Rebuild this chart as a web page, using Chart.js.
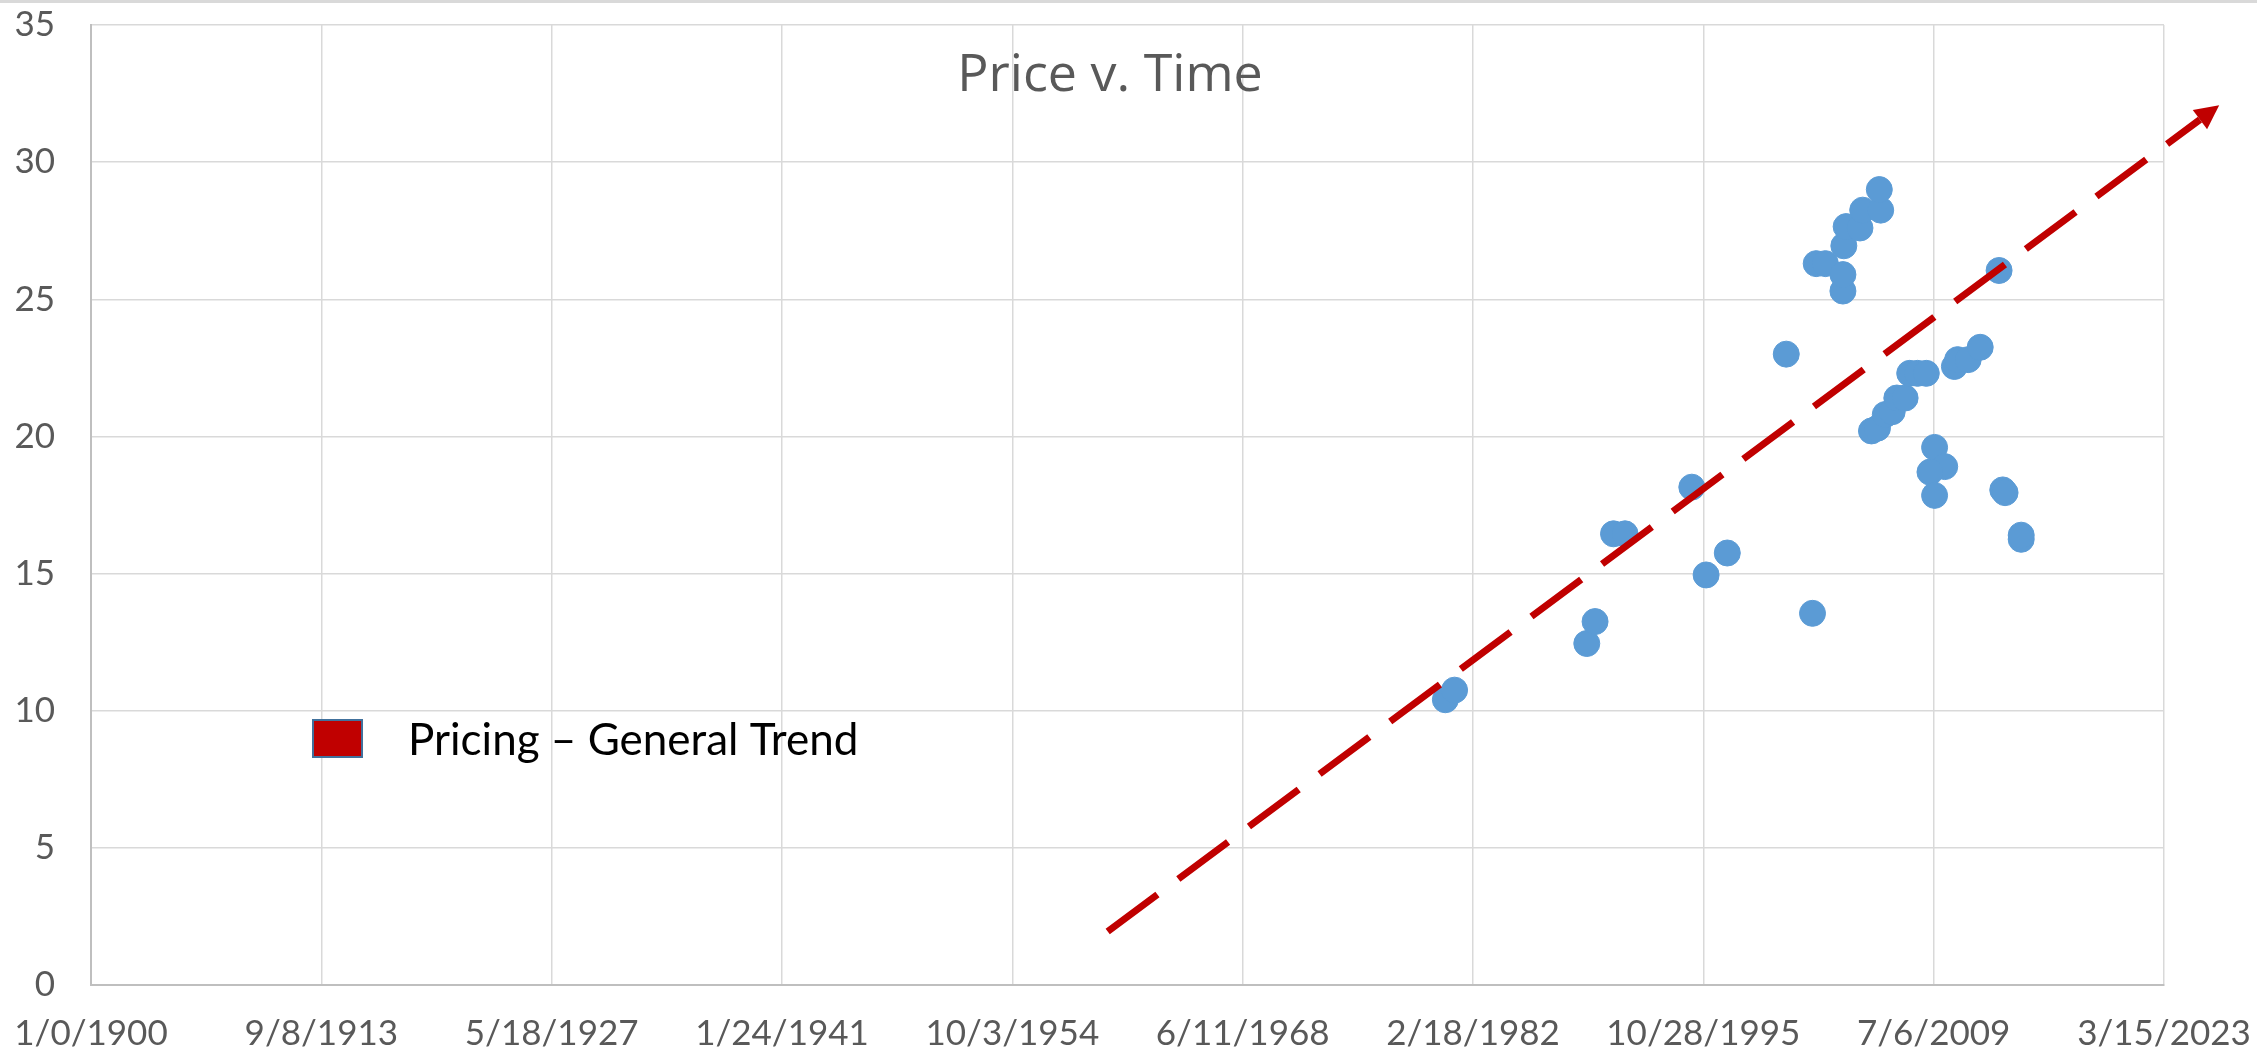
<!DOCTYPE html>
<html>
<head>
<meta charset="utf-8">
<title>Price v. Time</title>
<script src="https://cdn.jsdelivr.net/npm/chart.js@4.4.1/dist/chart.umd.min.js"></script>
<style>
  html, body { margin: 0; padding: 0; background: #fff; }
  .wrap { position: relative; width: 2257px; height: 1057px; }
  .topbar { position: absolute; left: 0; top: 0; width: 2257px; height: 3px; background: #d9d9d9; }
</style>
</head>
<body>
<div class="wrap">
  <canvas id="myChart" width="2257" height="1057"></canvas>
  <div class="topbar"></div>
</div>
<script>
// excel date serials and prices
const priceDates = [29400, 29600, 32470, 32650, 33050, 33300, 34750, 35060, 35520, 36800,
  37370, 37450, 37650, 38030, 38030, 38050, 38100, 38400, 38460, 38850, 38820,
  38650, 38780, 38950, 39100, 39200, 39380, 39480, 39650, 39840, 40020, 40240,
  39920, 40020, 40450, 40520, 40750, 41010, 41420, 41500, 41550, 41900, 41900]
const prices = [10.4, 10.75, 12.45, 13.25, 16.45, 16.45, 18.15, 14.95, 15.75, 23.0,
  13.55, 26.3, 26.3, 25.3, 25.9, 26.95, 27.65, 27.6, 28.25, 28.25, 29.0,
  20.2, 20.3, 20.8, 20.9, 21.4, 21.4, 22.3, 22.3, 22.3, 19.6, 18.9,
  18.7, 17.85, 22.55, 22.8, 22.8, 23.25, 26.05, 18.05, 17.95, 16.25, 16.4]

// trend line: start and arrow base
const trendDates = [22070, 45780]
const trendPrices = [1.95, 31.55]

const xTickLabels = ['1/0/1900', '9/8/1913', '5/18/1927', '1/24/1941', '10/3/1954',
  '6/11/1968', '2/18/1982', '10/28/1995', '7/6/2009', '3/15/2023']
const legendLabel = 'Pricing \u2013 General Trend'
const chartTitle = 'Price v. Time'

const ctx = document.getElementById('myChart')

const pricePoints = priceDates.map((d, i) => ({x: d, y: prices[i]}))
const trendPoints = trendDates.map((d, i) => ({x: d, y: trendPrices[i]}))

// title, legend box and arrow head
const extras = {
  id: 'extras',
  afterDatasetsDraw(chart) {
    const c = chart.ctx
    const meta = chart.getDatasetMeta(0)
    const a = meta.data[0], b = meta.data[1]
    const ang = Math.atan2(b.y - a.y, b.x - a.x)
    const len = 24, half = 12
    c.save()
    c.fillStyle = '#C00000'
    c.beginPath()
    c.moveTo(b.x + Math.cos(ang) * len, b.y + Math.sin(ang) * len)
    c.lineTo(b.x + Math.cos(ang + Math.PI / 2) * half, b.y + Math.sin(ang + Math.PI / 2) * half)
    c.lineTo(b.x - Math.cos(ang + Math.PI / 2) * half, b.y - Math.sin(ang + Math.PI / 2) * half)
    c.closePath()
    c.fill()

    // title
    c.fillStyle = '#595959'
    c.font = '52px "Open Sans"'
    c.textAlign = 'center'
    c.textBaseline = 'middle'
    c.fillText(chartTitle, 1110, 76)

    // legend
    c.fillStyle = '#C00000'
    c.fillRect(313, 720, 49, 37)
    c.strokeStyle = '#41719C'
    c.lineWidth = 2
    c.strokeRect(313, 720, 49, 37)
    c.fillStyle = '#000'
    c.font = '44px Lato'
    c.textAlign = 'left'
    c.textBaseline = 'alphabetic'
    c.fillText(legendLabel, 408, 755)
    c.restore()
  }
}

new Chart(ctx, {
  type: 'scatter',
  data: {
    datasets: [{
      label: legendLabel,
      type: 'line',
      data: trendPoints,
      borderColor: '#C00000',
      borderWidth: 7,
      borderDash: [62, 26],
      pointRadius: 0,
      fill: false,
      clip: false,
      order: 0
    }, {
      label: 'Price',
      data: pricePoints,
      backgroundColor: '#5B9BD5',
      borderColor: '#5B9BD5',
      borderWidth: 1,
      pointRadius: 13,
      order: 1
    }]
  },
  options: {
    responsive: false,
    animation: false,
    devicePixelRatio: 1,
    layout: {padding: {top: 25, right: 93, left: 0, bottom: 0}},
    plugins: {
      legend: {display: false},
      tooltip: {enabled: false},
      title: {display: false}
    },
    scales: {
      x: {
        type: 'linear',
        min: 0,
        max: 45000,
        grid: {color: '#D9D9D9', lineWidth: 1.5, drawTicks: false},
        border: {color: '#BFBFBF', width: 2},
        ticks: {
          stepSize: 5000,
          autoSkip: false,
          maxRotation: 0,
          padding: 28,
          color: '#595959',
          font: {family: 'Lato', size: 35},
          callback: (v) => xTickLabels[Math.round(v / 5000)]
        },
        afterFit: (s) => {
          s.height = 72
          s.paddingLeft = 0
          s.paddingRight = 0
        }
      },
      y: {
        min: 0,
        max: 35,
        grid: {color: '#D9D9D9', lineWidth: 1.5, drawTicks: false},
        border: {color: '#BFBFBF', width: 2},
        ticks: {
          stepSize: 5,
          padding: 36,
          color: '#595959',
          font: {family: 'Lato', size: 35}
        },
        afterFit: (s) => {
          s.width = 91
          s.paddingTop = 0
          s.paddingBottom = 0
        }
      }
    }
  },
  plugins: [extras]
})
</script>
</body>
</html>
